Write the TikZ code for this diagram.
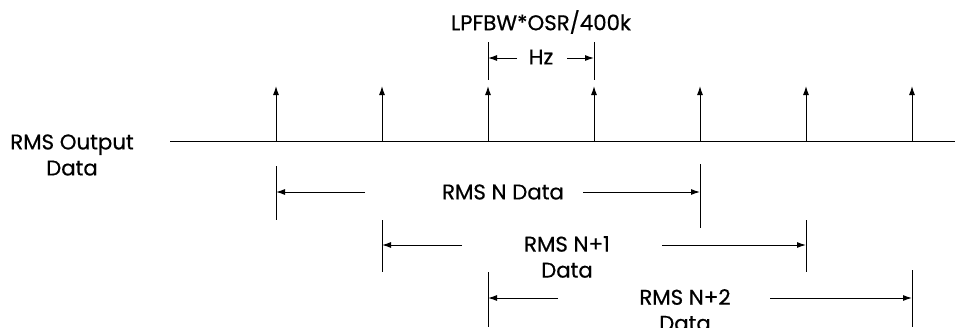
\documentclass[tikz,border=0pt]{standalone}
\usepackage{fontspec}
\setmainfont{Poppins}
\newfontfamily\lblfont{Poppins}[FakeBold=0.6]
\usetikzlibrary{arrows.meta}
\begin{document}
\begin{tikzpicture}[x=1pt,y=-1pt,line width=1pt,
  tipto/.style={-{Latex[length=9pt,width=6pt]}},
  lbl/.style={font=\lblfont\fontsize{21.3}{26}\selectfont,align=center,inner sep=0pt}]
\useasboundingbox (0,0) rectangle (955,327);
% axis
\coordinate (a0) at (170,141);
\coordinate (a1) at (955,141);
\draw (a0) -- (a1);
% impulses
\foreach \i/\x in {1/276,2/382,3/488,4/594,5/700,6/806,7/912}{
  \coordinate (b\i) at (\x,141);
  \coordinate (t\i) at (\x,86);
  \draw[tipto] (b\i) -- (t\i);
}
% labels
\node[lbl] (lp) at (541,22) {LPFBW*OSR/400k};
\node[lbl] (hz) at (541,57) {Hz};
\node[lbl] (rms) at (72,155) {RMS Output\\Data};
% top dimension
\coordinate (h1a) at (488,42); \coordinate (h1b) at (488,80);
\coordinate (h2a) at (594,42); \coordinate (h2b) at (594,80);
\draw (h1a) -- (h1b); \draw (h2a) -- (h2b);
\coordinate (h1m) at (488,58); \coordinate (h2m) at (594,58);
\coordinate (hl) at (517,58); \coordinate (hr) at (567,58);
\draw[tipto] (hl) -- (h1m);
\draw[tipto] (hr) -- (h2m);
% RMS N
\coordinate (n0a) at (276,166); \coordinate (n0b) at (276,220);
\coordinate (n1a) at (700,164); \coordinate (n1b) at (700,228);
\draw (n0a) -- (n0b); \draw (n1a) -- (n1b);
\node[lbl] (nt) at (503,192) {RMS N Data};
\coordinate (nl0) at (276,192); \coordinate (nl1) at (365,192);
\coordinate (nr0) at (583,192); \coordinate (nr1) at (700,192);
\draw[tipto] (nl1) -- (nl0);
\draw[tipto] (nr0) -- (nr1);
% RMS N+1
\coordinate (p0a) at (382,220); \coordinate (p0b) at (382,272);
\coordinate (p1a) at (806,220); \coordinate (p1b) at (806,272);
\draw (p0a) -- (p0b); \draw (p1a) -- (p1b);
\node[lbl] (pt) at (567,257) {RMS N+1\\Data};
\coordinate (pl0) at (382,245); \coordinate (pl1) at (462,245);
\coordinate (pr0) at (662,245); \coordinate (pr1) at (806,245);
\draw[tipto] (pl1) -- (pl0);
\draw[tipto] (pr0) -- (pr1);
% RMS N+2
\coordinate (q0a) at (488,272); \coordinate (q0b) at (488,327);
\coordinate (q1a) at (912,270); \coordinate (q1b) at (912,327);
\draw (q0a) -- (q0b); \draw (q1a) -- (q1b);
\node[lbl] (qt) at (685,310) {RMS N+2\\Data};
\coordinate (ql0) at (488,298); \coordinate (ql1) at (558,298);
\coordinate (qr0) at (770,298); \coordinate (qr1) at (912,298);
\draw[tipto] (ql1) -- (ql0);
\draw[tipto] (qr0) -- (qr1);
\end{tikzpicture}
\end{document}
